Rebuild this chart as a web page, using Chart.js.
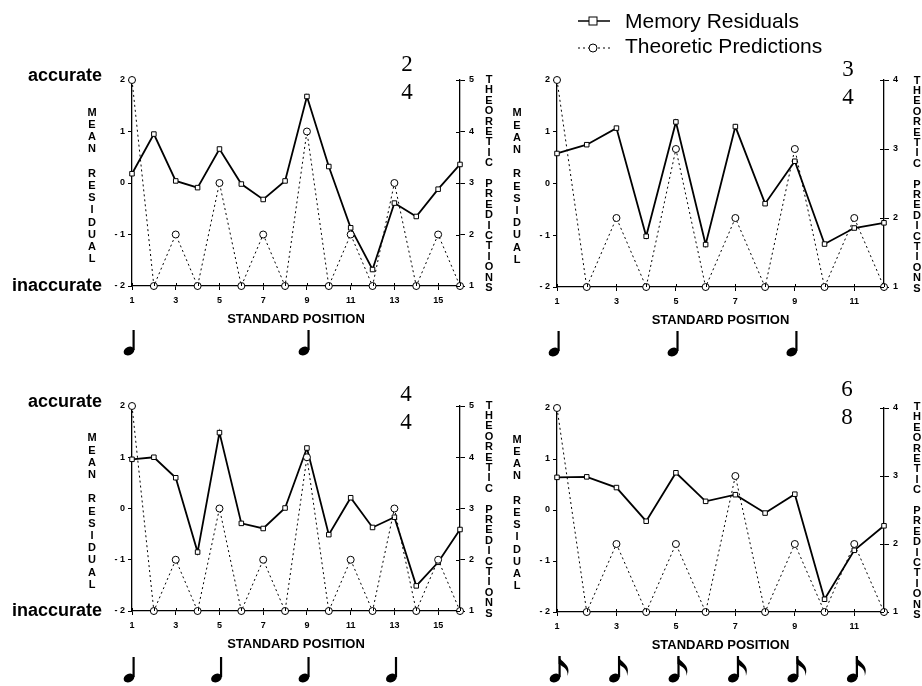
<!DOCTYPE html>
<html>
<head>
<meta charset="utf-8">
<script src="https://cdn.jsdelivr.net/npm/chart.js@4.4.1/dist/chart.umd.min.js"></script>
<style>
  body { margin: 0; background: #fff; }
  #wrap { position: relative; width: 922px; height: 686px; overflow: hidden; }
  canvas { position: absolute; }
</style>
</head>
<body>
<div id="wrap">
  <canvas id="p24" width="500" height="370" style="left:0;top:0"></canvas>
  <canvas id="p34" width="422" height="370" style="left:500px;top:0"></canvas>
  <canvas id="p44" width="500" height="316" style="left:0;top:370px"></canvas>
  <canvas id="p68" width="422" height="316" style="left:500px;top:370px"></canvas>
</div>
<script>
// standard positions
const positions16 = [1, 2, 3, 4, 5, 6, 7, 8, 9, 10, 11, 12, 13, 14, 15, 16];
const positions12 = [1, 2, 3, 4, 5, 6, 7, 8, 9, 10, 11, 12];

// 2/4
const memory24 = [0.18, 0.95, 0.04, -0.09, 0.66, -0.02, -0.32, 0.04, 1.68, 0.32, -0.87, -1.68, -0.39, -0.65, -0.12, 0.36];
const theory24 = [5, 1, 2, 1, 3, 1, 2, 1, 4, 1, 2, 1, 3, 1, 2, 1];
// 3/4
const memory34 = [0.58, 0.75, 1.07, -1.02, 1.19, -1.18, 1.10, -0.39, 0.43, -1.17, -0.86, -0.76];
const theory34 = [4, 1, 2, 1, 3, 1, 2, 1, 3, 1, 2, 1];
// 4/4
const memory44 = [0.96, 1.0, 0.60, -0.85, 1.48, -0.29, -0.39, 0.01, 1.18, -0.51, 0.21, -0.37, -0.17, -1.51, -1.05, -0.41];
const theory44 = [5, 1, 2, 1, 3, 1, 2, 1, 4, 1, 2, 1, 3, 1, 2, 1];
// 6/8
const memory68 = [0.64, 0.65, 0.44, -0.22, 0.73, 0.17, 0.30, -0.06, 0.31, -1.75, -0.79, -0.31];
const theory68 = [4, 1, 2, 1, 2, 1, 3, 1, 2, 1, 2, 1];

// beats marked by notes under each panel
const beats24 = [1, 9];
const beats34 = [1, 5, 9];
const beats44 = [1, 5, 9, 13];
const beats68 = [1, 3, 5, 7, 9, 11];

const residualTicks = ["- 2", "- 1", "0", "1", "2"];

const SANS = '"Liberation Sans", Arial, Helvetica, sans-serif';
const SERIF = '"Liberation Serif", "Times New Roman", serif';

function stacked(ctx, text, x, yMid, step) {
  const n = text.length;
  let y = yMid - (n - 1) * step / 2;
  for (const ch of text) {
    if (ch !== " ") ctx.fillText(ch, x, y);
    y += step;
  }
}

// quarter / eighth note glyph, x = beat position, bottom = lowest pixel
function drawNote(ctx, x, bottom, eighth) {
  const hx = eighth ? x - 2 : x - 3, hy = bottom - 5;
  ctx.beginPath();
  ctx.ellipse(hx, hy, 5.6, 4.1, -0.45, 0, Math.PI * 2);
  ctx.fill();
  const sx = hx + 4.6;
  const top = eighth ? bottom - 27 : bottom - 26;
  ctx.lineWidth = 2.2;
  ctx.beginPath();
  ctx.moveTo(sx, hy - 1);
  ctx.lineTo(sx, top);
  ctx.stroke();
  if (eighth) {
    ctx.beginPath();
    ctx.moveTo(sx - 1, top);
    ctx.bezierCurveTo(sx + 2, top + 7, sx + 12, top + 8, sx + 8, top + 20);
    ctx.bezierCurveTo(sx + 8.5, top + 13, sx + 4, top + 11, sx - 1, top + 8);
    ctx.closePath();
    ctx.fill();
  }
}

const decor = {
  id: "decor",
  afterDraw(chart, args, o) {
    const ctx = chart.ctx;
    const a = chart.chartArea;
    const xs = chart.scales.x;
    const r2 = chart.scales.y2;
    ctx.save();
    ctx.fillStyle = "#000";
    ctx.strokeStyle = "#000";

    // inner halves of the crossing ticks
    ctx.lineWidth = 1;
    ctx.beginPath();
    for (const t of xs.ticks) {
      const px = Math.round(xs.getPixelForValue(t.value)) + 0.5;
      ctx.moveTo(px, a.bottom); ctx.lineTo(px, a.bottom - 3);
    }
    for (const t of r2.ticks) {
      const py = Math.round(r2.getPixelForValue(t.value)) + 0.5;
      ctx.moveTo(a.right, py); ctx.lineTo(a.right - 4, py);
    }
    ctx.stroke();

    ctx.textAlign = "center";
    ctx.textBaseline = "middle";

    // stacked axis titles
    ctx.font = "bold 11px " + SANS;
    stacked(ctx, "MEAN RESIDUAL", a.left - 40, (a.top + a.bottom) / 2 + 3, 12.2);
    stacked(ctx, "THEORETIC PREDICTIONS", a.right + o.rightTitle, (a.top + a.bottom) / 2 + 1, 10.4);

    // x title
    ctx.font = "bold 13px " + SANS;
    ctx.fillText("STANDARD POSITION", (a.left + a.right) / 2, a.bottom + 33);

    // meter
    ctx.font = "23px " + SERIF;
    ctx.fillText(o.meter[0], a.right + o.meterDx, a.top + o.meterDy);
    ctx.fillText(o.meter[1], a.right + o.meterDx, a.top + o.meterDy + 28);

    // accuracy labels
    if (o.accuracy) {
      ctx.font = "bold 18px " + SANS;
      ctx.textAlign = "right";
      ctx.fillText("accurate", 102, a.top - 4);
      ctx.fillText("inaccurate", 102, a.bottom);
    }

    // notes
    for (const b of o.beats) {
      drawNote(ctx, xs.getPixelForValue(b), a.bottom + o.noteDy, o.eighth);
    }

    // legend
    if (o.legend) {
      const lx = 78, mx = 93;
      ctx.lineWidth = 1.5;
      ctx.beginPath(); ctx.moveTo(lx, 21); ctx.lineTo(lx + 32, 21); ctx.stroke();
      ctx.fillStyle = "#fff"; ctx.lineWidth = 1;
      ctx.fillRect(mx - 4, 17, 8, 8); ctx.strokeRect(mx - 4, 17, 8, 8);
      ctx.setLineDash([2, 3]);
      ctx.beginPath(); ctx.moveTo(lx, 48); ctx.lineTo(lx + 32, 48); ctx.stroke();
      ctx.setLineDash([]);
      ctx.beginPath(); ctx.arc(mx, 48, 4, 0, Math.PI * 2); ctx.fill(); ctx.stroke();
      ctx.fillStyle = "#000";
      ctx.font = "21px " + SANS;
      ctx.textAlign = "left";
      ctx.textBaseline = "middle";
      ctx.fillText("Memory Residuals", 125, 22);
      ctx.fillText("Theoretic Predictions", 125, 47);
    }
    ctx.restore();
  }
};

function makePanel(id, p) {
  const tickFont = { family: SANS, size: 9, weight: "bold" };
  new Chart(document.getElementById(id), {
    type: "line",
    data: {
      datasets: [
        {
          label: "Theoretic Predictions",
          data: p.positions.map((x, i) => ({ x: x, y: p.theory[i] })),
          yAxisID: "y2",
          borderColor: "#000",
          borderWidth: 1,
          borderDash: [2, 3],
          pointStyle: "circle",
          pointRadius: 3.5,
          pointBackgroundColor: "#fff",
          pointBorderColor: "#000",
          pointBorderWidth: 1,
          clip: false
        },
        {
          label: "Memory Residuals",
          data: p.positions.map((x, i) => ({ x: x, y: p.memory[i] })),
          yAxisID: "y",
          borderColor: "#000",
          borderWidth: 1.8,
          pointStyle: "rect",
          pointRadius: 3.2,
          pointBackgroundColor: "#fff",
          pointBorderColor: "#000",
          pointBorderWidth: 1,
          clip: false
        }
      ]
    },
    options: {
      responsive: false,
      animation: false,
      events: [],
      layout: { padding: { top: p.padTop, left: 0, right: 0, bottom: 0 } },
      plugins: {
        legend: { display: false },
        tooltip: { enabled: false },
        decor: p.decor
      },
      scales: {
        x: {
          type: "linear",
          min: 1,
          max: p.positions.length,
          afterFit: s => { s.height = p.xH; },
          ticks: {
            stepSize: 1, autoSkip: false, maxRotation: 0, color: "#000", font: tickFont, padding: 5,
            callback: v => (v % 2 === 1 ? String(v) : "")
          },
          grid: { drawOnChartArea: false, color: "#000", tickLength: 4 },
          border: { color: "#000", width: 1.3 }
        },
        y: {
          position: "left",
          min: -2,
          max: 2,
          afterFit: s => { s.width = p.yW; },
          ticks: { stepSize: 1, color: "#000", font: tickFont, padding: 3, callback: (v, i) => residualTicks[i] },
          grid: { drawOnChartArea: false, color: "#000", tickLength: 4 },
          border: { color: "#000", width: 1.3 }
        },
        y2: {
          position: "right",
          min: 1,
          max: p.theoryMax,
          afterFit: s => { s.width = p.y2W; },
          ticks: { stepSize: 1, color: "#000", font: tickFont, padding: 4 },
          grid: { drawOnChartArea: false, color: "#000", tickLength: 5 },
          border: { color: "#000", width: 1.3 }
        }
      }
    },
    plugins: [decor]
  });
}

makePanel("p24", {
  positions: positions16, memory: memory24, theory: theory24, theoryMax: 5,
  padTop: 80, yW: 132, y2W: 40, xH: 84,
  decor: { meter: ["2", "4"], meterDx: -53, meterDy: -15, rightTitle: 29, accuracy: true, beats: beats24, eighth: false, noteDy: 70, legend: false }
});
makePanel("p34", {
  positions: positions12, memory: memory34, theory: theory34, theoryMax: 4,
  padTop: 80, yW: 57, y2W: 38, xH: 83,
  decor: { meter: ["3", "4"], meterDx: -36, meterDy: -10, rightTitle: 33, accuracy: false, beats: beats34, eighth: false, noteDy: 70, legend: true }
});
makePanel("p44", {
  positions: positions16, memory: memory44, theory: theory44, theoryMax: 5,
  padTop: 36, yW: 132, y2W: 40, xH: 75,
  decor: { meter: ["4", "4"], meterDx: -54, meterDy: -11, rightTitle: 29, accuracy: true, beats: beats44, eighth: false, noteDy: 72, legend: false }
});
makePanel("p68", {
  positions: positions12, memory: memory68, theory: theory68, theoryMax: 4,
  padTop: 38, yW: 57, y2W: 38, xH: 74,
  decor: { meter: ["6", "8"], meterDx: -37, meterDy: -18, rightTitle: 33, accuracy: false, beats: beats68, eighth: true, noteDy: 71, legend: false }
});
</script>
</body>
</html>
